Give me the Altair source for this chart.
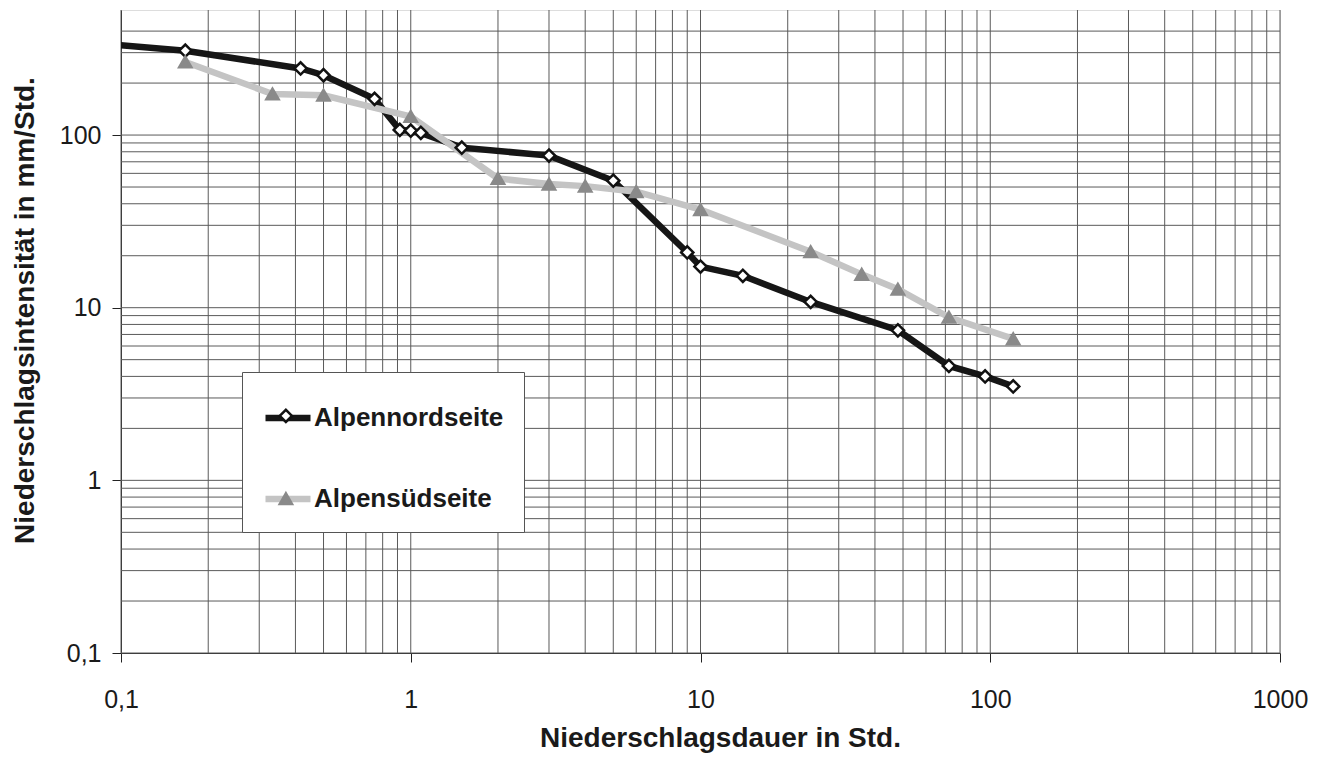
import altair as alt
import pandas as pd

# ---- data ----
north_name = "Alpennordseite"
south_name = "Alpensüdseite"

north_x = [0.0833, 0.1667, 0.4167, 0.5, 0.75, 0.9167, 1.0, 1.0833, 1.5, 3, 5, 9, 10, 14, 24, 48, 72, 96, 120]
north_y = [340, 308, 243, 222, 162, 107, 106, 103, 84.5, 76, 54.4, 20.9, 17.3, 15.3, 10.8, 7.4, 4.6, 4.0, 3.5]

south_x = [0.1667, 0.3333, 0.5, 1, 2, 3, 4, 6, 10, 24, 36, 48, 72, 120]
south_y = [265, 173, 170, 128, 56, 52, 50.6, 47, 37, 21.1, 15.6, 12.8, 8.8, 6.6]

x_ticks = [0.1, 1, 10, 100, 1000]
y_ticks = [0.1, 1, 10, 100]
x_grid = [m * 10.0 ** e for e in [-1, 0, 1, 2] for m in range(1, 10)] + [1000]
y_grid = [m * 10.0 ** e for e in [-1, 0, 1] for m in range(1, 10)] + [100, 200, 300, 400]

rows = []
for x, y in zip(north_x, north_y):
    rows.append({"dauer": x, "intens": y, "Reihe": north_name, "Serie": north_name})
for x, y in zip(south_x, south_y):
    rows.append({"dauer": x, "intens": y, "Reihe": south_name, "Serie": south_name})
df = pd.DataFrame(rows)

FONT = "Liberation Sans"
TXT = "#1a1a1a"
GRID = "#5a5a5a"
names = [north_name, south_name]

xscale = alt.Scale(type="log", domain=[0.1, 1000])
yscale = alt.Scale(type="log", domain=[0.1, 530])

label_expr = "replace(toString(datum.value), '.', ',')"

xaxis = alt.Axis(
    title="Niederschlagsdauer in Std.", values=x_ticks, labelExpr=label_expr, grid=False,
    tickSize=9, tickColor="#222", domainColor="#222", labelFont=FONT, labelFontSize=25,
    labelColor=TXT, labelPadding=25, labelFlush=False, labelOverlap=False,
    titleFont=FONT, titleFontSize=28, titleFontWeight="bold", titleColor=TXT,
    titleX=599, titleY=93, titleBaseline="alphabetic",
)
yaxis = alt.Axis(
    title="Niederschlagsintensität in mm/Std.", values=y_ticks, labelExpr=label_expr, grid=False,
    tickSize=9, tickColor="#222", domainColor="#222", labelFont=FONT, labelFontSize=25,
    labelColor=TXT, labelPadding=11, labelFlush=False, labelOverlap=False,
    titleFont=FONT, titleFontSize=28, titleFontWeight="bold", titleColor=TXT,
    titleX=-88, titleY=300, titleAngle=270, titleBaseline="alphabetic",
)

xgrid = alt.Chart(pd.DataFrame({"gx": x_grid})).mark_rule(color=GRID, strokeWidth=1).encode(
    x=alt.X("gx:Q", scale=xscale, axis=xaxis)
)
ygrid = alt.Chart(pd.DataFrame({"gy": y_grid})).mark_rule(color=GRID, strokeWidth=1).encode(
    y=alt.Y("gy:Q", scale=yscale, axis=yaxis)
)

legA = alt.Legend(
    title=None, orient="none", legendX=121, legendY=362, fillColor="white", strokeColor="#555",
    padding=20, symbolType="stroke", symbolSize=2025, symbolStrokeWidth=6.5,
    labelFont=FONT, labelFontSize=26, labelFontWeight="bold", labelColor=TXT,
    labelOffset=0, rowPadding=42, labelLimit=400,
)

sym = 150
d = sym ** 0.5
legB = alt.Legend(
    title=None, orient="none", legendX=284.5 - 121 - d / 2, legendY=414.5 - 10 - d / 2,
    padding=0, symbolSize=sym, symbolStrokeWidth=2.5, symbolOpacity=1,
    labelOpacity=0, labelFontSize=1, rowPadding=60.75,
)

lines = alt.Chart(df).mark_line(strokeWidth=6.5, clip=True).encode(
    x=alt.X("dauer:Q", scale=xscale, axis=xaxis),
    y=alt.Y("intens:Q", scale=yscale, axis=yaxis),
    color=alt.Color("Reihe:N", scale=alt.Scale(range=["#161616", "#c4c4c4"]), legend=legA),
)

pts = alt.Chart(df).mark_point(size=sym, clip=True, strokeWidth=2.5, opacity=1, fillOpacity=1).encode(
    x=alt.X("dauer:Q", scale=xscale, axis=xaxis),
    y=alt.Y("intens:Q", scale=yscale, axis=yaxis),
    shape=alt.Shape("Serie:N", scale=alt.Scale(domain=names, range=["diamond", "triangle-up"]), legend=legB),
    fill=alt.Fill("Serie:N", scale=alt.Scale(domain=names, range=["white", "#8a8a8a"]), legend=legB),
    stroke=alt.Stroke("Serie:N", scale=alt.Scale(domain=names, range=["#111111", "#8a8a8a"]), legend=legB),
)

chart = alt.layer(xgrid, ygrid, lines, pts).properties(
    width=1159, height=643,
    autosize=alt.AutoSizeParams(type="none"),
    padding={"left": 113, "top": 2, "right": 30, "bottom": 100},
).configure_view(stroke="#222", strokeWidth=1.5).configure(background="white")

chart.save("out.html", embed_options={"renderer": "svg", "actions": False})
